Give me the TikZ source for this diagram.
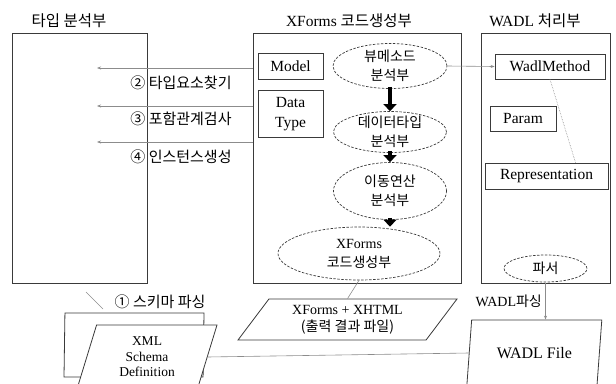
\documentclass[tikz,border=0pt]{standalone}
\usepackage{fontspec}
\usepackage{tikz}
\setmainfont{Liberation Serif}
\newfontfamily\krfont{Noto Sans CJK KR}
\usetikzlibrary{
  arrows.meta,
  shapes.geometric,
  positioning,
  calc
}
\definecolor{wdLine}{HTML}{3A3A3A}
\definecolor{wdThin}{HTML}{8C8C8C}
\tikzset{
  grpbox/.style={draw=wdLine, line width=0.9pt, inner sep=0pt},
  titletext/.style={font=\fontsize{15.5}{18}\selectfont, inner sep=1pt},
  itembox/.style={
    draw=wdLine, line width=0.8pt, inner sep=2pt, align=center,
    font=\fontsize{15.5}{20}\selectfont
  },
  anaell/.style={
    draw=wdLine, ellipse, dash pattern=on 2.5pt off 1.5pt, line width=0.7pt,
    align=center, inner xsep=0pt, inner ysep=-4pt,
    font=\krfont\fontsize{14}{19}\selectfont
  },
  filepara/.style={
    draw=wdLine, trapezium, trapezium stretches body, line width=0.8pt,
    fill=white, align=center, inner sep=1pt, font=\fontsize{14}{17}\selectfont
  },
  heavyarrow/.style={-{Triangle[length=7pt, width=13pt]}, line width=4.5pt, black,
    shorten <=-2pt},
  thinline/.style={wdThin, line width=0.6pt},
  thinarrow/.style={thinline, -{Stealth[length=4pt, width=3pt]}},
  steplabel/.style={font=\krfont\fontsize{15}{18}\selectfont, inner sep=1pt}
}

\begin{document}
\begin{tikzpicture}[x=1pt, y=-1pt]
  \useasboundingbox (0,0) rectangle (616,383);
  % three parts
  \node[grpbox, minimum width=135, minimum height=250] (typebox) at (79.5,158) {};
  \node[grpbox, minimum width=208, minimum height=250] (xfbox) at (357,158) {};
  \node[grpbox, minimum width=129, minimum height=250] (wadlbox) at (545.5,158) {};
  \node[titletext] (ttype) at (69,21) {\krfont 타입 분석부};
  \node[titletext] (txf) at (349,21) {XForms {\krfont 코드생성부}};
  \node[titletext] (twadl) at (535,21) {WADL {\krfont 처리부}};

  % XForms code generator
  \node[itembox, minimum width=65, minimum height=26] (model) at (290.5,66) {Model};
  \node[itembox, minimum width=65, minimum height=47, below=11pt of model] (dtype) {Data\\Type};
  \node[anaell, minimum width=114, minimum height=45] (viewana) at (390,66) {뷰메소드\\분석부};
  \node[anaell, minimum width=113, minimum height=41] (typeana) at (390,132) {데이터타입\\분석부};
  \node[anaell, minimum width=113, minimum height=57] (moveana) at (390,191) {이동연산\\분석부};
  \node[anaell, minimum width=162, minimum height=53] (codegen) at (359,253.5) {{\rmfamily XForms}\\코드생성부};
  \draw[heavyarrow] (viewana) -- (typeana);
  \draw[heavyarrow] (typeana) -- (moveana);
  \draw[heavyarrow] (moveana.south) -- (moveana.south |- codegen.north);

  % WADL handler
  \node[itembox, minimum width=110, minimum height=25] (wadlm) at (550,66.5) {WadlMethod};
  \node[itembox, minimum width=66, minimum height=25] (param) at (523,118.5) {Param};
  \node[itembox, minimum width=123, minimum height=26] (repr) at (546.5,176) {Representation};
  \node[anaell, minimum width=83, minimum height=27] (parser) at (545.5,268.5) {파서};
  \draw[thinarrow] (viewana.east) -- (wadlm.west);
  \draw[thinline, densely dotted] (wadlm.south) -- ($(repr.north)+(29,0)$);

  % steps towards the type analyser
  \coordinate (p2) at (97,68);
  \coordinate (p3) at (97,106);
  \coordinate (p4) at (97,142);
  \foreach \p in {p2,p3,p4}
    \draw[thinarrow] (xfbox.west |- \p) -- (\p);
  \node[steplabel] (l2) at (181,83) {② 타입요소찾기};
  \node[steplabel] (l3) at (181,119) {③ 포함관계검사};
  \node[steplabel] (l4) at (181,157) {④ 인스턴스생성};

  % files
  \node[filepara, trapezium left angle=65, trapezium right angle=115,
    minimum width=140, minimum height=64] (xmlback) at (134,345) {};
  \node[filepara, trapezium left angle=65, trapezium right angle=115,
    minimum width=140, minimum height=64, font=\fontsize{13.5}{15.5}\selectfont]
    (xmlfront) at (147,357) {XML\\Schema\\Definition};
  \node[filepara, trapezium left angle=45, trapezium right angle=135,
    minimum width=219, minimum height=41] (outfile) at (347.5,319.5)
    {XForms + XHTML\\{\krfont (출력 결과 파일)}};
  \node[filepara, trapezium left angle=70, trapezium right angle=110,
    minimum width=135, minimum height=66, font=\fontsize{16}{18}\selectfont]
    (wadlfile) at (534.3,353) {WADL File};

  \node[steplabel] (l1) at (160,302) {① 스키마 파싱};
  \coordinate (s1a) at (86,292);
  \coordinate (s1b) at (103,309);
  \draw[thinline] (s1a) -- (s1b);
  \draw[thinline] (codegen.south) -- (outfile.north);
  \draw[thinline] (xmlfront.east) -- (wadlfile.west);
  \draw[thinarrow] (wadlbox.south) -- (wadlbox.south |- wadlfile.north)
    node[midway, left, text=black, font=\fontsize{14}{16}\selectfont] {WADL{\krfont 파싱}};
\end{tikzpicture}
\end{document}
